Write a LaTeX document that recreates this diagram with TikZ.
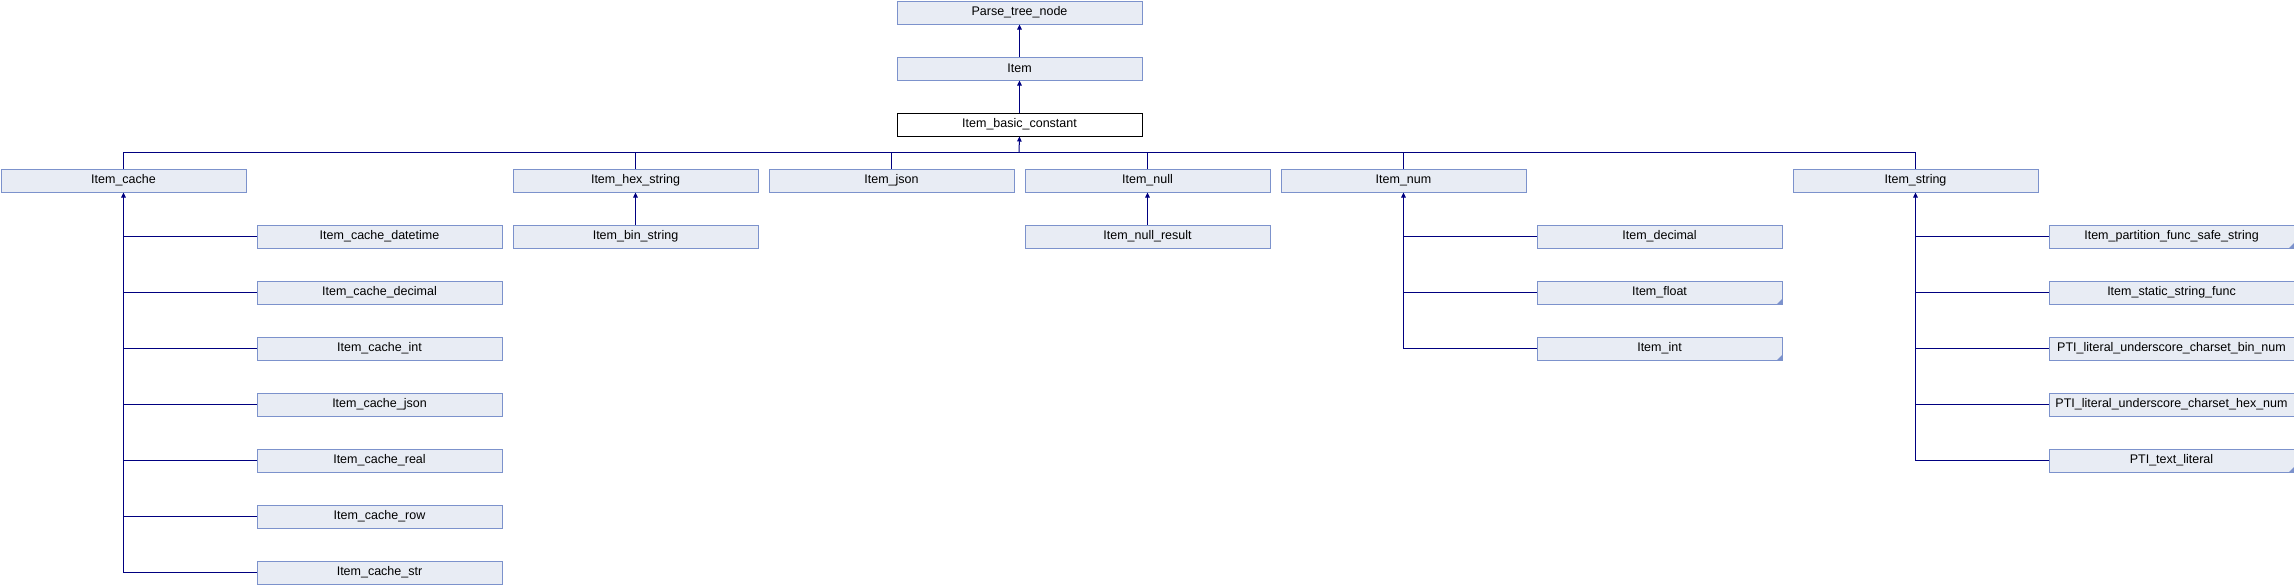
\documentclass[tikz,border=0pt]{standalone}
\usepackage{fontspec}
\setmainfont{Liberation Sans}
\usetikzlibrary{arrows.meta}
\definecolor{boxfill}{RGB}{232,236,244}
\definecolor{boxline}{RGB}{124,146,204}
\definecolor{linkcol}{RGB}{0,0,128}
\tikzset{
  classbox/.style={draw=boxline, fill=boxfill, line width=1pt, minimum width=245pt,
    minimum height=23pt, inner sep=0pt, anchor=north west, font=\fontsize{12.5}{14}\selectfont},
  thisbox/.style={classbox, draw=black, fill=white},
  folded/.style={path picture={\fill[boxline] (path picture bounding box.south east)
    -- ++(-5pt,0) -- ++(5pt,5pt) -- cycle;}},
  link/.style={draw=linkcol, line width=1pt},
  inherit/.style={link, -{Triangle[width=4.5pt,length=5pt]}}
}
\begin{document}
\begin{tikzpicture}[x=1pt,y=-1pt]
\useasboundingbox (0,0) rectangle (2294,584);

%Base classes
\node[classbox] (ptn) at (896.5,0.5) {Parse\_tree\_node};
\node[classbox] (item) at (896.5,56.5) {Item};
\node[thisbox] (ibc) at (896.5,112.5) {Item\_basic\_constant};

%Direct subclasses
\node[classbox] (cache) at (0.5,168.5) {Item\_cache};
\node[classbox] (hexstr) at (512.5,168.5) {Item\_hex\_string};
\node[classbox] (json) at (768.5,168.5) {Item\_json};
\node[classbox] (null) at (1024.5,168.5) {Item\_null};
\node[classbox] (num) at (1280.5,168.5) {Item\_num};
\node[classbox] (string) at (1792.5,168.5) {Item\_string};

%Single children
\node[classbox] (binstr) at (512.5,224.5) {Item\_bin\_string};
\node[classbox] (nullres) at (1024.5,224.5) {Item\_null\_result};

%Item_cache children
\foreach \n/\t [count=\i from 0] in {cdt/datetime, cdec/decimal, cint/int, cjson/json,
    creal/real, crow/row, cstr/str}
  \node[classbox] (\n) at (256.5,224.5+56*\i) {Item\_cache\_\t};

%Item_num children
\node[classbox] (ndec) at (1536.5,224.5) {Item\_decimal};
\node[classbox,folded] (nfloat) at (1536.5,280.5) {Item\_float};
\node[classbox,folded] (nint) at (1536.5,336.5) {Item\_int};

%Item_string children
\node[classbox,folded] (spart) at (2048.5,224.5) {Item\_partition\_func\_safe\_string};
\node[classbox] (sstatic) at (2048.5,280.5) {Item\_static\_string\_func};
\node[classbox] (sbin) at (2048.5,336.5) {PTI\_literal\_underscore\_charset\_bin\_num};
\node[classbox] (shex) at (2048.5,392.5) {PTI\_literal\_underscore\_charset\_hex\_num};
\node[classbox,folded] (stext) at (2048.5,448.5) {PTI\_text\_literal};

%Links
\draw[inherit] (item.north) -- (ptn.south);
\draw[inherit] (ibc.north) -- (item.south);
\coordinate (bus) at (1019,152.5);
\draw[inherit] (bus) -- (ibc.south);
\draw[link] (cache.north) |- (bus) -| (string.north);
\foreach \n in {hexstr, json, null, num}
  \draw[link] (\n.north) -- (\n.north |- bus);
\draw[inherit] (binstr.north) -- (hexstr.south);
\draw[inherit] (nullres.north) -- (null.south);

\draw[inherit] (cache.south |- cstr.west) -- (cache.south);
\foreach \n in {cdt, cdec, cint, cjson, creal, crow, cstr}
  \draw[link] (cache.south |- \n.west) -- (\n.west);

\draw[inherit] (num.south |- nint.west) -- (num.south);
\foreach \n in {ndec, nfloat, nint}
  \draw[link] (num.south |- \n.west) -- (\n.west);

\draw[inherit] (string.south |- stext.west) -- (string.south);
\foreach \n in {spart, sstatic, sbin, shex, stext}
  \draw[link] (string.south |- \n.west) -- (\n.west);
\end{tikzpicture}
\end{document}
